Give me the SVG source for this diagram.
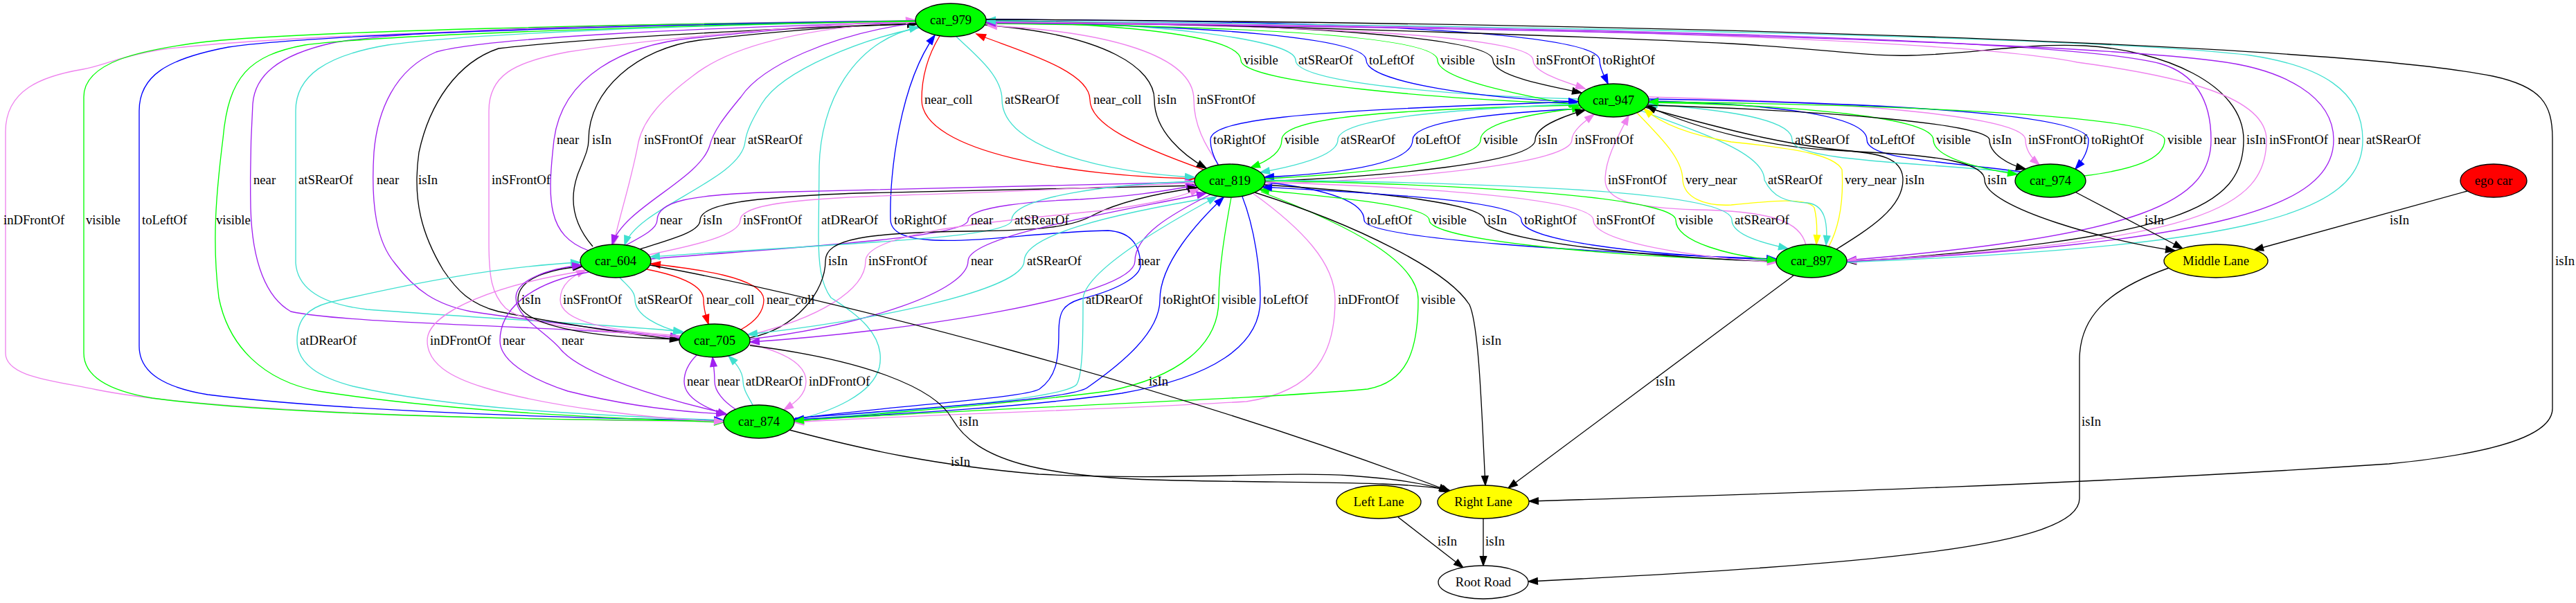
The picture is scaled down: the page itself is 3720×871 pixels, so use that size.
<svg xmlns="http://www.w3.org/2000/svg" width="3720" height="871" viewBox="0 0 3720 871">
<style>
.e path{fill:none;stroke-width:1.33}
.k{stroke:#000;marker-end:url(#mk)}
.p{stroke:#a020f0;marker-end:url(#mp)}
.c{stroke:#40e0d0;marker-end:url(#mc)}
.v{stroke:#ee82ee;marker-end:url(#mv)}
.g{stroke:#00ff00;marker-end:url(#mg)}
.b{stroke:#0000ff;marker-end:url(#mb)}
.r{stroke:#ff0000;marker-end:url(#mr)}
.y{stroke:#ffff00;marker-end:url(#my)}
.lb text{font-family:'Liberation Serif','Times New Roman',serif;font-size:18.67px;fill:#000}
.nd ellipse{stroke:#000;stroke-width:1.33}
.nd text{font-family:'Liberation Serif','Times New Roman',serif;font-size:18.67px;fill:#000;text-anchor:middle}
.car{fill:#00ff00}
.lane{fill:#ffff00}
</style>
<defs>
<marker id="mk" markerUnits="userSpaceOnUse" markerWidth="16" markerHeight="12" refX="13.3" refY="4.67" orient="auto" overflow="visible"><path d="M0,0 L13.3,4.67 L0,9.33 Z" fill="#000" stroke="#000" stroke-width="1.33"/></marker>
<marker id="mp" markerUnits="userSpaceOnUse" markerWidth="16" markerHeight="12" refX="13.3" refY="4.67" orient="auto" overflow="visible"><path d="M0,0 L13.3,4.67 L0,9.33 Z" fill="#a020f0" stroke="#a020f0" stroke-width="1.33"/></marker>
<marker id="mc" markerUnits="userSpaceOnUse" markerWidth="16" markerHeight="12" refX="13.3" refY="4.67" orient="auto" overflow="visible"><path d="M0,0 L13.3,4.67 L0,9.33 Z" fill="#40e0d0" stroke="#40e0d0" stroke-width="1.33"/></marker>
<marker id="mv" markerUnits="userSpaceOnUse" markerWidth="16" markerHeight="12" refX="13.3" refY="4.67" orient="auto" overflow="visible"><path d="M0,0 L13.3,4.67 L0,9.33 Z" fill="#ee82ee" stroke="#ee82ee" stroke-width="1.33"/></marker>
<marker id="mg" markerUnits="userSpaceOnUse" markerWidth="16" markerHeight="12" refX="13.3" refY="4.67" orient="auto" overflow="visible"><path d="M0,0 L13.3,4.67 L0,9.33 Z" fill="#00ff00" stroke="#00ff00" stroke-width="1.33"/></marker>
<marker id="mb" markerUnits="userSpaceOnUse" markerWidth="16" markerHeight="12" refX="13.3" refY="4.67" orient="auto" overflow="visible"><path d="M0,0 L13.3,4.67 L0,9.33 Z" fill="#0000ff" stroke="#0000ff" stroke-width="1.33"/></marker>
<marker id="mr" markerUnits="userSpaceOnUse" markerWidth="16" markerHeight="12" refX="13.3" refY="4.67" orient="auto" overflow="visible"><path d="M0,0 L13.3,4.67 L0,9.33 Z" fill="#ff0000" stroke="#ff0000" stroke-width="1.33"/></marker>
<marker id="my" markerUnits="userSpaceOnUse" markerWidth="16" markerHeight="12" refX="13.3" refY="4.67" orient="auto" overflow="visible"><path d="M0,0 L13.3,4.67 L0,9.33 Z" fill="#ffff00" stroke="#ffff00" stroke-width="1.33"/></marker>
</defs>
<rect width="3720" height="871" fill="#fff"/>
<g id="connectors" class="e">
<path class="g" d="M1424,31 C1650,35 1792,55 1792,87 C1792,120 2100,145 2279,150"/>
<path class="c" d="M2279,143 C2100,138 1871,120 1871,87 C1871,55 1650,32 1424,29"/>
<path class="b" d="M1424,33 C1750,36 1973,55 1973,87 C1973,120 2150,143 2279,147"/>
<path class="g" d="M1424,34 C1850,38 2076,55 2076,87 C2076,115 2200,138 2281,153"/>
<path class="k" d="M1424,30 C1900,34 2156,55 2156,87 C2156,110 2240,125 2284,134"/>
<path class="v" d="M1424,32 C1950,36 2214,55 2214,87 C2214,105 2260,118 2289,128"/>
<path class="b" d="M1424,28 C2000,30 2310,50 2310,87 C2310,100 2318,112 2322,121"/>
<path class="r" d="M1357,52 C1340,80 1331,110 1331,144 C1331,220 1550,255 1725,258"/>
<path class="c" d="M1381,53 C1410,80 1447,110 1447,144 C1447,215 1600,250 1725,256"/>
<path class="r" d="M1738,245 C1640,210 1574,180 1574,144 C1574,100 1460,70 1410,49"/>
<path class="k" d="M1422,36 C1600,50 1667,100 1667,144 C1667,190 1710,225 1742,243"/>
<path class="v" d="M1760,238 C1740,210 1724,180 1724,144 C1724,80 1600,45 1426,37"/>
<path class="p" d="M850,362 C790,340 790,290 800,202 C812,110 900,65 1000,55 C1150,40 1250,32 1322,30"/>
<path class="k" d="M856,356 C825,320 822,285 835,250 C845,225 850,215 850,202 C850,130 920,70 1010,58 C1150,42 1250,36 1324,35"/>
<path class="v" d="M1322,31 C1150,40 1050,70 1000,110 C960,140 930,170 922,205 C912,260 895,310 886,353"/>
<path class="p" d="M1322,33 C1200,50 1100,95 1070,140 C1045,170 1030,190 1025,210 C1010,260 900,300 884,353"/>
<path class="c" d="M1328,40 C1250,55 1130,100 1100,150 C1085,175 1078,190 1076,205 C1070,260 920,300 902,354"/>
<path class="p" d="M1322,30 C1000,33 600,40 480,62 C400,80 368,110 365,150 C362,200 361,250 362,300 C364,380 385,430 420,450 C500,468 800,470 982,487"/>
<path class="c" d="M1322,31 C1000,36 680,48 560,65 C470,80 427,110 427,160 L427,380 C430,420 470,440 530,447 C700,460 900,470 986,479"/>
<path class="p" d="M1322,32 C1000,40 700,55 630,75 C570,100 545,160 540,220 C535,300 545,350 570,380 C600,420 630,440 680,450 C800,468 920,480 981,489"/>
<path class="k" d="M1322,34 C1100,42 850,55 720,70 C660,90 620,150 605,220 C595,290 610,340 640,390 C660,420 680,440 720,450 C820,470 930,485 981,491"/>
<path class="v" d="M982,487 C850,478 760,470 730,445 C710,425 706,400 706,350 L706,160 C706,110 740,90 820,75 C950,55 1150,38 1322,29"/>
<path class="v" d="M1322,32 C900,35 400,50 230,72 C170,82 150,95 120,100 C60,110 8,130 8,190 L8,510 C8,545 80,550 140,563 C300,595 700,606 1045,609"/>
<path class="g" d="M1322,31 C900,34 450,45 300,60 C200,72 121,90 121,140 L121,510 C121,545 160,565 220,575 C400,600 800,607 1045,608"/>
<path class="b" d="M1322,30 C900,36 450,50 330,68 C240,85 201,110 201,160 L201,500 C201,540 240,560 300,570 C500,595 850,605 1045,607"/>
<path class="g" d="M1322,30 C1000,36 550,50 440,65 C360,80 330,110 322,200 C312,280 306,350 316,430 C330,500 380,550 460,565 C650,595 900,605 1045,610"/>
<path class="b" d="M1147,605 C1300,585 1480,575 1501,562 C1525,545 1529,520 1529,480 C1529,450 1535,440 1560,432 C1610,420 1650,400 1647,380 C1645,350 1630,335 1600,333 C1500,335 1420,350 1350,347 C1305,345 1287,335 1286,318 C1284,250 1300,120 1350,51"/>
<path class="c" d="M1147,607 C1200,595 1260,570 1270,530 C1280,480 1230,450 1200,430 C1185,410 1182,380 1182,340 L1183,240 C1185,150 1230,60 1327,39"/>
<path class="p" d="M1424,31 C2400,40 3000,60 3120,92 C3175,108 3193,150 3193,202 C3193,290 3100,340 2667,376"/>
<path class="k" d="M1424,30 C1900,38 2350,55 2500,63 C2650,72 2700,82 2760,80 C2850,78 2920,62 3010,66 C3120,72 3240,120 3240,202 C3240,300 3150,345 2667,378"/>
<path class="v" d="M1424,32 C2300,38 2850,60 3000,90 C3150,110 3273,140 3273,202 C3273,300 3180,350 2667,377"/>
<path class="p" d="M2667,378 C3200,350 3370,300 3370,202 C3370,140 3300,100 3200,88 C3000,62 2300,40 1424,33"/>
<path class="c" d="M2667,379 C3250,355 3412,310 3412,202 C3412,130 3350,95 3250,80 C3050,55 2300,38 1424,30"/>
<path class="k" d="M1424,28 C2600,35 3400,70 3600,110 C3670,125 3686,150 3686,200 L3686,590 C3686,630 3600,655 3450,670 C3000,700 2600,712 2208,724"/>
<path class="b" d="M1759,238 C1752,226 1748,215 1748,202 C1748,175 1850,160 2279,147"/>
<path class="g" d="M2280,152 C2000,158 1851,170 1851,202 C1851,222 1825,235 1806,242"/>
<path class="c" d="M2280,150 C2050,160 1932,175 1932,202 C1932,225 1870,240 1820,249"/>
<path class="b" d="M2282,157 C2120,165 2040,180 2040,202 C2040,235 1950,250 1826,256"/>
<path class="g" d="M1827,258 C1950,252 2138,235 2138,202 C2138,180 2200,165 2284,156"/>
<path class="k" d="M1827,262 C2000,255 2217,235 2217,202 C2217,185 2250,170 2289,159"/>
<path class="v" d="M1826,266 C2050,258 2270,235 2270,202 C2270,190 2285,178 2302,165"/>
<path class="v" d="M2608,354 C2600,320 2560,305 2450,303 C2360,300 2318,290 2318,260 C2318,230 2335,200 2352,167"/>
<path class="y" d="M2364,163 C2400,200 2430,230 2430,260 C2432,285 2460,298 2500,296 C2560,290 2610,285 2620,300 C2625,320 2624,340 2623,353"/>
<path class="c" d="M2370,160 C2450,190 2548,220 2548,260 C2560,285 2580,292 2610,293 C2635,296 2640,320 2637,354"/>
<path class="y" d="M2641,356 C2660,320 2662,280 2660,245 C2650,225 2600,215 2500,205 C2440,195 2400,180 2374,157"/>
<path class="k" d="M2652,360 C2700,330 2748,300 2748,260 C2748,230 2720,220 2650,217 C2560,213 2460,190 2378,153"/>
<path class="c" d="M2915,250 C2800,235 2588,235 2588,202 C2588,170 2480,158 2380,150"/>
<path class="b" d="M2918,248 C2800,232 2696,230 2696,202 C2696,165 2550,150 2381,146"/>
<path class="g" d="M2381,148 C2600,152 2792,170 2792,202 C2792,230 2870,245 2913,252"/>
<path class="k" d="M2380,152 C2650,160 2873,180 2873,202 C2873,222 2900,238 2925,244"/>
<path class="v" d="M2380,140 C2700,148 2925,170 2925,202 C2925,220 2938,232 2945,238"/>
<path class="b" d="M2381,143 C2800,150 3016,170 3016,202 C3016,220 3005,235 2997,244"/>
<path class="g" d="M3010,254 C3080,245 3126,230 3126,202 C3126,170 2800,152 2381,147"/>
<path class="k" d="M2376,155 C2500,190 2600,215 2700,220 C2800,225 2866,235 2866,260 C2866,300 3050,350 3141,362"/>
<path class="p" d="M904,354 C930,340 949,330 949,318 C949,290 1000,282 1100,278 C1400,272 1600,266 1725,263"/>
<path class="k" d="M924,360 C970,345 1011,335 1011,318 C1011,295 1080,285 1240,279 C1500,273 1650,270 1727,268"/>
<path class="v" d="M937,368 C1000,355 1069,340 1069,318 C1069,295 1150,287 1300,282 C1500,276 1650,267 1725,264"/>
<path class="p" d="M940,374 C1100,360 1398,345 1398,318 C1398,298 1500,290 1560,288 C1650,283 1700,272 1727,268"/>
<path class="c" d="M1725,262 C1600,266 1461,285 1461,318 C1461,345 1200,352 939,371"/>
<path class="k" d="M1082,488 C1150,475 1192,420 1192,377 C1192,345 1250,336 1400,334 C1500,333 1550,328 1580,310 C1620,290 1680,278 1729,271"/>
<path class="v" d="M1082,484 C1180,460 1250,420 1250,377 C1250,330 1500,315 1600,303 C1680,292 1710,282 1732,273"/>
<path class="p" d="M1083,490 C1250,470 1398,420 1398,377 C1398,340 1620,305 1742,279"/>
<path class="c" d="M1757,284 C1600,310 1479,340 1479,377 C1479,420 1250,465 1080,483"/>
<path class="p" d="M1748,281 C1690,310 1639,340 1639,377 C1639,430 1300,480 1083,494"/>
<path class="c" d="M1147,607 C1350,590 1540,575 1555,555 C1564,540 1564,480 1564,433 C1564,390 1700,315 1757,284"/>
<path class="b" d="M1148,604 C1350,588 1545,577 1570,560 C1620,525 1675,480 1675,433 C1675,380 1730,320 1767,285"/>
<path class="g" d="M1778,285 C1768,340 1760,390 1760,433 C1760,500 1700,545 1600,565 C1450,585 1250,598 1147,609"/>
<path class="b" d="M1794,284 C1812,330 1820,390 1820,433 C1820,500 1750,545 1620,568 C1450,592 1250,600 1147,606"/>
<path class="v" d="M1809,279 C1880,330 1928,380 1928,433 C1928,510 1900,565 1800,580 C1600,592 1300,600 1147,610"/>
<path class="g" d="M1821,277 C1960,330 2048,380 2048,433 C2048,510 2030,552 1975,562 C1800,578 1400,590 1147,608"/>
<path class="b" d="M1827,263 C1930,275 1970,295 1970,318 C1970,345 2300,365 2565,374"/>
<path class="g" d="M2565,377 C2300,370 2064,345 2064,318 C2064,295 1900,283 1819,274"/>
<path class="k" d="M1826,267 C2000,278 2144,295 2144,318 C2144,345 2350,370 2566,378"/>
<path class="b" d="M2565,375 C2350,368 2197,345 2197,318 C2197,290 2000,280 1823,270"/>
<path class="v" d="M1826,263 C2100,272 2301,290 2301,318 C2301,350 2450,372 2566,379"/>
<path class="g" d="M1827,261 C2200,268 2420,290 2420,318 C2420,350 2500,370 2566,376"/>
<path class="c" d="M1826,260 C2300,266 2501,285 2501,318 C2501,340 2550,352 2582,359"/>
<path class="k" d="M1812,278 C1960,325 2090,390 2122,440 C2136,470 2140,600 2145,701"/>
<path class="k" d="M982,490 C850,488 748,470 748,433 C748,400 800,388 841,385"/>
<path class="v" d="M982,485 C880,478 809,465 809,433 C809,410 828,398 846,390"/>
<path class="c" d="M895,401 C905,412 917,420 917,433 C917,455 950,472 986,481"/>
<path class="r" d="M934,389 C990,400 1016,415 1016,433 C1016,448 1020,458 1023,468"/>
<path class="r" d="M1070,476 C1090,465 1103,450 1103,433 C1103,400 1000,388 940,381"/>
<path class="c" d="M1045,607 C850,600 650,590 510,558 C460,545 429,525 429,492 C429,460 445,445 475,437 C600,408 720,385 838,379"/>
<path class="v" d="M846,391 C720,410 617,450 617,492 C617,525 650,545 700,560 C800,590 950,605 1045,609"/>
<path class="p" d="M850,393 C760,410 722,450 722,492 C722,520 760,545 820,565 C900,585 980,595 1048,598"/>
<path class="p" d="M1048,597 C950,575 840,540 810,505 C790,480 745,460 745,430 C745,405 790,388 840,383"/>
<path class="p" d="M1006,513 C994,525 988,538 988,551 C988,575 1020,590 1050,599"/>
<path class="p" d="M1062,591 C1045,580 1032,565 1032,551 C1032,535 1030,525 1029,516"/>
<path class="c" d="M1087,585 C1080,572 1073,562 1073,551 C1073,535 1060,522 1052,514"/>
<path class="v" d="M1083,497 C1130,508 1164,525 1164,551 C1164,570 1148,582 1132,592"/>
<path class="k" d="M939,383 C1200,430 1700,560 2092,709"/>
<path class="k" d="M1083,499 C1250,520 1350,560 1375,605 C1410,665 1500,690 1700,694 C1900,698 2030,695 2093,708"/>
<path class="k" d="M1140,621 C1250,650 1350,672 1500,685 C1700,695 1850,680 1950,687 C2020,692 2070,700 2095,711"/>
<path class="k" d="M2590,398 L2178,705"/>
<path class="k" d="M2998,278 L3152,359"/>
<path class="k" d="M3563,276 L3255,361"/>
<path class="k" d="M3132,387 C3040,420 3003,460 3003,520 L3003,720 C3003,790 2700,815 2207,840"/>
<path class="k" d="M2019,747 L2113,820"/>
<path class="k" d="M2142,749 L2142,817"/>
</g>
<g id="edge-labels" class="lb">
<text x="1796" y="93">visible</text><text x="1875" y="93">atSRearOf</text><text x="1977" y="93">toLeftOf</text><text x="2080" y="93">visible</text><text x="2160" y="93">isIn</text><text x="2218" y="93">inSFrontOf</text><text x="2314" y="93">toRightOf</text>
<text x="1335" y="150">near_coll</text><text x="1451" y="150">atSRearOf</text><text x="1579" y="150">near_coll</text><text x="1671" y="150">isIn</text><text x="1728" y="150">inSFrontOf</text>
<text x="804" y="208">near</text><text x="855" y="208">isIn</text><text x="930" y="208">inSFrontOf</text><text x="1030" y="208">near</text><text x="1080" y="208">atSRearOf</text>
<text x="1752" y="208">toRightOf</text><text x="1855" y="208">visible</text><text x="1936" y="208">atSRearOf</text><text x="2044" y="208">toLeftOf</text><text x="2142" y="208">visible</text><text x="2221" y="208">isIn</text><text x="2274" y="208">inSFrontOf</text>
<text x="2592" y="208">atSRearOf</text><text x="2700" y="208">toLeftOf</text><text x="2796" y="208">visible</text><text x="2877" y="208">isIn</text><text x="2929" y="208">inSFrontOf</text><text x="3020" y="208">toRightOf</text><text x="3130" y="208">visible</text>
<text x="3197" y="208">near</text><text x="3244" y="208">isIn</text><text x="3277" y="208">inSFrontOf</text><text x="3376" y="208">near</text><text x="3417" y="208">atSRearOf</text>
<text x="366" y="266">near</text><text x="431" y="266">atSRearOf</text><text x="544" y="266">near</text><text x="604" y="266">isIn</text><text x="710" y="266">inSFrontOf</text>
<text x="2322" y="266">inSFrontOf</text><text x="2434" y="266">very_near</text><text x="2553" y="266">atSRearOf</text><text x="2664" y="266">very_near</text><text x="2751" y="266">isIn</text><text x="2870" y="266">isIn</text>
<text x="5" y="324">inDFrontOf</text><text x="124" y="324">visible</text><text x="205" y="324">toLeftOf</text><text x="312" y="324">visible</text>
<text x="953" y="324">near</text><text x="1015" y="324">isIn</text><text x="1073" y="324">inSFrontOf</text><text x="1186" y="324">atDRearOf</text><text x="1291" y="324">toRightOf</text><text x="1402" y="324">near</text><text x="1465" y="324">atSRearOf</text>
<text x="1974" y="324">toLeftOf</text><text x="2068" y="324">visible</text><text x="2148" y="324">isIn</text><text x="2201" y="324">toRightOf</text><text x="2305" y="324">inSFrontOf</text><text x="2424" y="324">visible</text><text x="2505" y="324">atSRearOf</text>
<text x="3097" y="324">isIn</text><text x="3451" y="324">isIn</text>
<text x="1196" y="383">isIn</text><text x="1254" y="383">inSFrontOf</text><text x="1402" y="383">near</text><text x="1483" y="383">atSRearOf</text><text x="1643" y="383">near</text><text x="3690" y="383">isIn</text>
<text x="753" y="439">isIn</text><text x="813" y="439">inSFrontOf</text><text x="921" y="439">atSRearOf</text><text x="1020" y="439">near_coll</text><text x="1107" y="439">near_coll</text>
<text x="1568" y="439">atDRearOf</text><text x="1679" y="439">toRightOf</text><text x="1764" y="439">visible</text><text x="1824" y="439">toLeftOf</text><text x="1932" y="439">inDFrontOf</text><text x="2052" y="439">visible</text>
<text x="433" y="498">atDRearOf</text><text x="621" y="498">inDFrontOf</text><text x="726" y="498">near</text><text x="811" y="498">near</text><text x="2140" y="498">isIn</text>
<text x="992" y="557">near</text><text x="1036" y="557">near</text><text x="1077" y="557">atDRearOf</text><text x="1168" y="557">inDFrontOf</text><text x="1659" y="557">isIn</text><text x="2391" y="557">isIn</text>
<text x="1385" y="615">isIn</text><text x="3006" y="615">isIn</text>
<text x="1373" y="673">isIn</text>
<text x="2076" y="788">isIn</text><text x="2145" y="788">isIn</text>
</g>
<g id="car_979" class="nd"><ellipse class="car" cx="1373" cy="29" rx="51" ry="24"/><text x="1373" y="35">car_979</text></g>
<g id="car_947" class="nd"><ellipse class="car" cx="2330" cy="145" rx="51" ry="24"/><text x="2330" y="151">car_947</text></g>
<g id="car_819" class="nd"><ellipse class="car" cx="1776" cy="261" rx="51" ry="24"/><text x="1776" y="267">car_819</text></g>
<g id="car_974" class="nd"><ellipse class="car" cx="2961" cy="261" rx="51" ry="24"/><text x="2961" y="267">car_974</text></g>
<g id="ego_car" class="nd"><ellipse fill="#ff0000" cx="3601" cy="261" rx="48" ry="24"/><text x="3601" y="267">ego car</text></g>
<g id="car_604" class="nd"><ellipse class="car" cx="889" cy="377" rx="51" ry="24"/><text x="889" y="383">car_604</text></g>
<g id="car_897" class="nd"><ellipse class="car" cx="2616" cy="377" rx="51" ry="24"/><text x="2616" y="383">car_897</text></g>
<g id="middle_lane" class="nd"><ellipse class="lane" cx="3200" cy="377" rx="75" ry="24"/><text x="3200" y="383">Middle Lane</text></g>
<g id="car_705" class="nd"><ellipse class="car" cx="1032" cy="492" rx="51" ry="24"/><text x="1032" y="498">car_705</text></g>
<g id="car_874" class="nd"><ellipse class="car" cx="1096" cy="609" rx="51" ry="24"/><text x="1096" y="615">car_874</text></g>
<g id="left_lane" class="nd"><ellipse class="lane" cx="1991" cy="725" rx="61" ry="24"/><text x="1991" y="731">Left Lane</text></g>
<g id="right_lane" class="nd"><ellipse class="lane" cx="2142" cy="725" rx="66" ry="24"/><text x="2142" y="731">Right Lane</text></g>
<g id="root_road" class="nd"><ellipse fill="#ffffff" cx="2142" cy="841" rx="65" ry="24"/><text x="2142" y="847">Root Road</text></g>
</svg>
